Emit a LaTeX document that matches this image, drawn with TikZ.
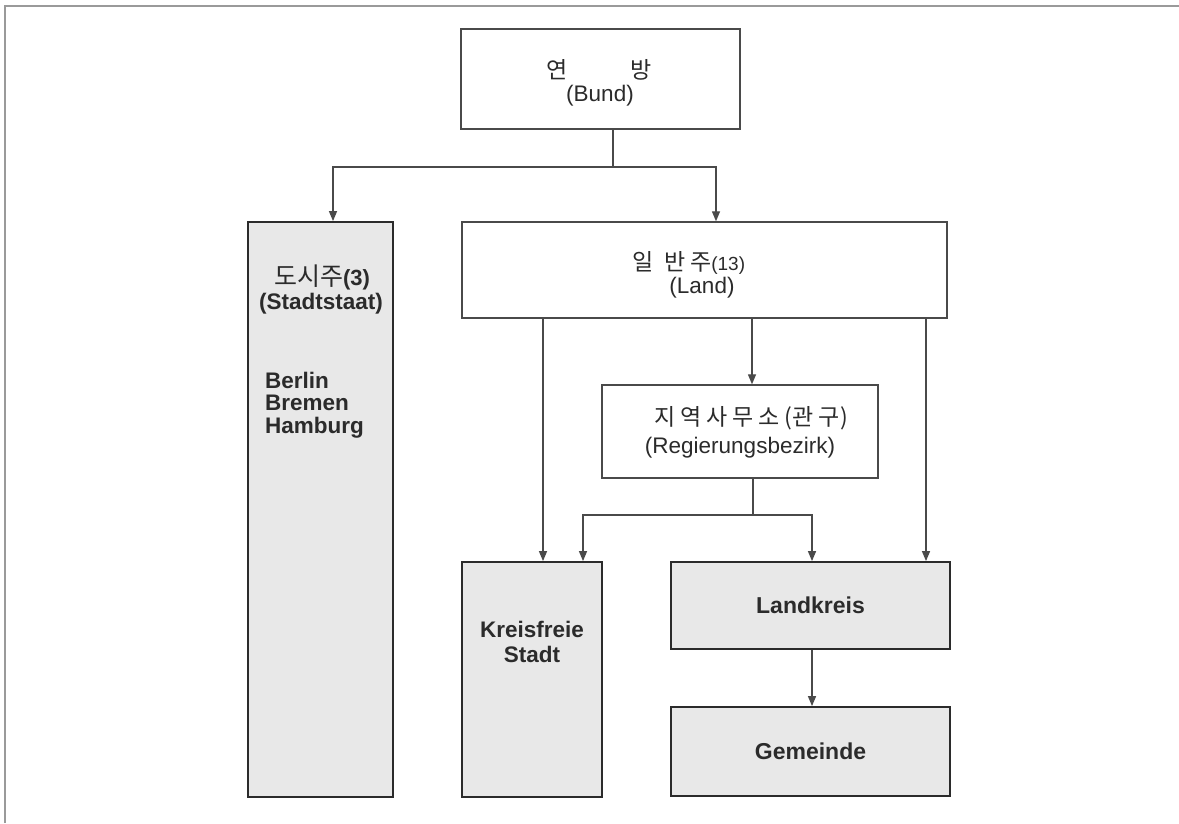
\documentclass[tikz,border=0pt]{standalone}
\usepackage{fontspec}
\setmainfont{Liberation Sans}
\newfontfamily\kr{Noto Sans CJK KR}
\usetikzlibrary{arrows.meta}
\definecolor{ink}{HTML}{2B2B2B}
\definecolor{edge}{HTML}{4A4A4A}
\definecolor{shade}{HTML}{E8E8E8}
\definecolor{framec}{HTML}{9A9A9A}
\newcommand\krsp{\hspace{5pt}}
\begin{document}
\begin{tikzpicture}[x=1pt,y=-1pt,
  plainbox/.style={draw=edge,line width=1.4pt,fill=white,inner sep=0pt,rectangle},
  greybox/.style={draw=ink,line width=1.8pt,fill=shade,inner sep=0pt,rectangle},
  txt/.style={inner sep=0pt,text=ink,font=\fontsize{22.5}{24}\selectfont},
  krtxt/.style={inner sep=0pt,text=ink,font=\kr\fontsize{23}{25}\selectfont},
  boldtxt/.style={inner sep=0pt,text=ink,font=\bfseries\fontsize{22.5}{24}\selectfont},
  conn/.style={draw=edge,line width=1.3pt},
  arr/.style={conn,-{Triangle[length=10pt,width=8pt]}}]
\useasboundingbox (0,0) rectangle (1179,823);
\fill[white] (0,0) rectangle (1179,823);
\draw[framec,line width=1.5pt] (5,823) -- (5,6) -- (1179,6);

% boxes
\node[plainbox,minimum width=279pt,minimum height=100pt] (bund) at (600.5,79) {};
\node[krtxt] (bundkr) at (599,70) {연\hspace{63pt}방};
\node[txt] (bundde) at (600,96) {(Bund)};

\node[greybox,minimum width=145pt,minimum height=575pt] (stadt) at (320.5,509.5) {};
\node[inner sep=0pt,text=ink] (stadtkr) at (322,277) {\kr\fontsize{25}{27}\selectfont 도시주{\rmfamily\bfseries\fontsize{22}{24}\selectfont(3)}};
\node[boldtxt] (stadtde) at (321,304) {(Stadtstaat)};
\node[boldtxt,anchor=west] (berlin) at (265,380) {Berlin};
\node[boldtxt,anchor=west] (bremen) at (265,403) {Bremen};
\node[boldtxt,anchor=west] (hamburg) at (265,428) {Hamburg};

\node[plainbox,minimum width=485pt,minimum height=96pt] (land) at (704.5,270) {};
\node[krtxt] (landkr) at (689,263) {일\hspace{10pt}반\hspace{5pt}주{\rmfamily\fontsize{19}{21}\selectfont(13)}};
\node[txt] (landde) at (702,288) {(Land)};

\node[plainbox,minimum width=276pt,minimum height=93pt] (reg) at (740,431.5) {};
\node[krtxt] (regkr) at (751,418) {지\krsp 역\krsp 사\krsp 무\krsp 소\krsp(관\krsp 구)};
\node[txt] (regde) at (740,448) {(Regierungsbezirk)};

\node[greybox,minimum width=140pt,minimum height=235pt] (kfs) at (532,679.5) {};
\node[boldtxt] (kfs1) at (532,629) {Kreisfreie};
\node[boldtxt] (kfs2) at (532,654) {Stadt};

\node[greybox,minimum width=279pt,minimum height=87pt,text=ink,font=\bfseries\fontsize{23}{25}\selectfont] (lk) at (810.5,605.5) {Landkreis};
\node[greybox,minimum width=279pt,minimum height=89pt,text=ink,font=\bfseries\fontsize{23}{25}\selectfont] (gem) at (810.5,751.5) {Gemeinde};

% connectors
\coordinate (j1) at (613,167);
\coordinate (a1) at (333,167);
\coordinate (a2) at (716,167);
\draw[conn] (bund.south -| j1) -- (j1);
\draw[arr] (j1) -- (a1) -- (a1 |- stadt.north);
\draw[arr] (j1) -- (a2) -- (a2 |- land.north);

\coordinate (c1) at (543,0);
\coordinate (c2) at (752,0);
\coordinate (c3) at (926,0);
\draw[arr] (land.south -| c1) -- (kfs.north -| c1);
\draw[arr] (land.south -| c2) -- (reg.north -| c2);
\draw[arr] (land.south -| c3) -- (lk.north -| c3);

\coordinate (j2) at (753,515);
\coordinate (b1) at (583,515);
\coordinate (b2) at (812,515);
\draw[conn] (reg.south -| j2) -- (j2);
\draw[arr] (j2) -- (b1) -- (b1 |- kfs.north);
\draw[arr] (j2) -- (b2) -- (b2 |- lk.north);
\draw[arr] (lk.south -| b2) -- (gem.north -| b2);
\end{tikzpicture}
\end{document}
